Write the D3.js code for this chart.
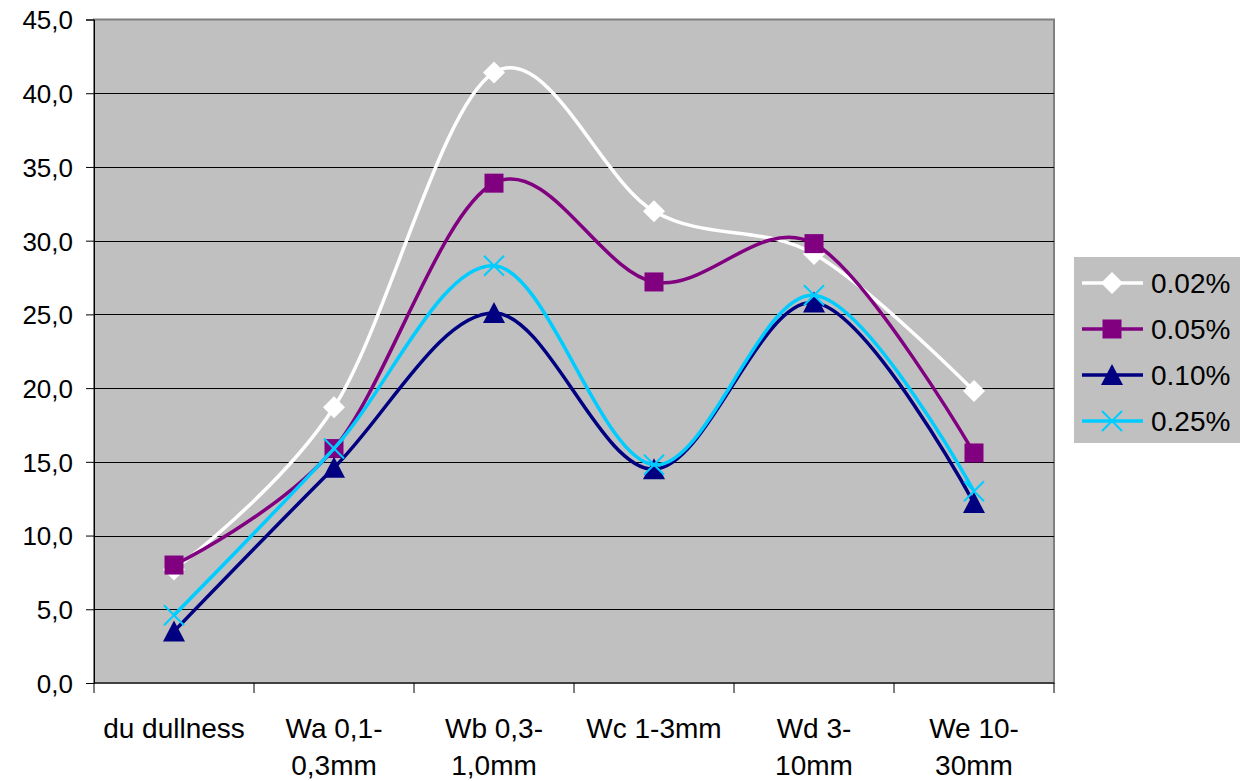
<!DOCTYPE html>
<html>
<head>
<meta charset="utf-8">
<script src="https://d3js.org/d3.v7.min.js"></script>
<style>
  body { margin: 0; background: #fff; }
  text { font-family: "Liberation Sans", Arial, sans-serif; fill: #000; }
</style>
</head>
<body>
<script>
// categories (split in two lines like the original axis)
var categories = [
  ["du dullness"],
  ["Wa 0,1-", "0,3mm"],
  ["Wb 0,3-", "1,0mm"],
  ["Wc 1-3mm"],
  ["Wd 3-", "10mm"],
  ["We 10-", "30mm"]
];
var seriesNames = ["0.02%", "0.05%", "0.10%", "0.25%"];
var s002 = [7.7, 18.7, 41.4, 32.0, 29.1, 19.8];
var s005 = [8.0, 15.9, 33.9, 27.2, 29.8, 15.6];
var s010 = [3.5, 14.6, 25.1, 14.5, 25.8, 12.2];
var s025 = [4.6, 15.9, 28.3, 14.8, 26.3, 13.0];
var yTicks = [0, 5, 10, 15, 20, 25, 30, 35, 40, 45];

var colors = ["#ffffff", "#800080", "#000080", "#00ccff"];
var shapes = ["diamond", "square", "triangle", "cross"];
var allSeries = [s002, s005, s010, s025];

var W = 1242, H = 781;
var plot = { left: 94, right: 1054, top: 19.5, bottom: 683 };

var svg = d3.select("body").append("svg")
  .attr("width", W)
  .attr("height", H);

var x = d3.scaleBand()
  .domain(d3.range(categories.length))
  .range([plot.left, plot.right]);
var y = d3.scaleLinear()
  .domain([0, 45])
  .range([plot.bottom, plot.top]);

// plot area
svg.append("rect")
  .attr("x", plot.left)
  .attr("y", plot.top)
  .attr("width", plot.right - plot.left)
  .attr("height", plot.bottom - plot.top)
  .attr("fill", "#c0c0c0")
  .attr("stroke", "#808080")
  .attr("stroke-width", 2);

// gridlines
svg.append("g")
  .selectAll("line")
  .data(yTicks.filter(d => d > 0 && d < 45))
  .enter().append("line")
    .attr("x1", plot.left)
    .attr("x2", plot.right)
    .attr("y1", d => Math.round(y(d)) + 0.5)
    .attr("y2", d => Math.round(y(d)) + 0.5)
    .attr("stroke", "#000")
    .attr("stroke-width", 1);

// y axis
var yAxis = svg.append("g")
  .attr("transform", "translate(" + plot.left + ",0)")
  .call(d3.axisLeft(y).tickValues(yTicks).tickSize(8).tickPadding(13)
    .tickFormat(d => d3.format(".1f")(d).replace(".", ",")));
yAxis.select(".domain").attr("stroke", "#000");
yAxis.selectAll(".tick line").attr("stroke", "#000");
yAxis.selectAll("text").style("font-size", "26px").attr("dy", "0.36em");

// x axis
var xAxis = svg.append("g")
  .attr("transform", "translate(0," + plot.bottom + ")");
xAxis.append("line")
  .attr("x1", plot.left).attr("x2", plot.right)
  .attr("stroke", "#000");
xAxis.selectAll(".xt")
  .data(d3.range(categories.length + 1))
  .enter().append("line")
    .attr("x1", d => d < categories.length ? x(d) : plot.right)
    .attr("x2", d => d < categories.length ? x(d) : plot.right)
    .attr("y1", 0).attr("y2", 10)
    .attr("stroke", "#000");
xAxis.selectAll(".xl")
  .data(categories)
  .enter().append("text")
    .attr("text-anchor", "middle")
    .style("font-size", "28px")
    .each(function(lines, i) {
      d3.select(this).selectAll("tspan")
        .data(lines)
        .enter().append("tspan")
          .attr("x", x(i) + x.bandwidth() / 2)
          .attr("y", (d, j) => 55 + j * 37)
          .text(d => d);
    });

var line = d3.line()
  .x((d, i) => x(i) + x.bandwidth() / 2)
  .y(d => y(d))
  .curve(d3.curveCardinal.tension(0));

function marker(g, shape, color) {
  if (shape == "diamond") {
    g.append("path").attr("d", "M0,-11L11,0L0,11L-11,0Z").attr("fill", color);
  } else if (shape == "square") {
    g.append("rect").attr("x", -9.5).attr("y", -9.5).attr("width", 19).attr("height", 19).attr("fill", color);
  } else if (shape == "triangle") {
    g.append("path").attr("d", "M0,-11L11,10L-11,10Z").attr("fill", color);
  } else {
    g.append("path").attr("d", "M-10,-10L10,10M10,-10L-10,10")
      .attr("stroke", color).attr("stroke-width", 2).attr("fill", "none");
  }
}

allSeries.forEach(function(vals, k) {
  var g = svg.append("g");
  g.append("path")
    .attr("d", line(vals))
    .attr("fill", "none")
    .attr("stroke", colors[k])
    .attr("stroke-width", 3.5);
  vals.forEach(function(v, i) {
    var m = g.append("g")
      .attr("transform", "translate(" + (x(i) + x.bandwidth() / 2) + "," + y(v) + ")");
    marker(m, shapes[k], colors[k]);
  });
});

// legend
var legend = svg.append("g").attr("transform", "translate(1074,257)");
legend.append("rect")
  .attr("width", 166).attr("height", 186)
  .attr("fill", "#c0c0c0");
seriesNames.forEach(function(name, k) {
  var ly = 26 + k * 46;
  legend.append("line")
    .attr("x1", 8).attr("x2", 69)
    .attr("y1", ly).attr("y2", ly)
    .attr("stroke", colors[k]).attr("stroke-width", 3.5);
  marker(legend.append("g").attr("transform", "translate(38," + ly + ")"), shapes[k], colors[k]);
  legend.append("text")
    .attr("x", 77).attr("y", ly)
    .attr("dy", "0.36em")
    .style("font-size", "28px")
    .text(name);
});
</script>
</body>
</html>
